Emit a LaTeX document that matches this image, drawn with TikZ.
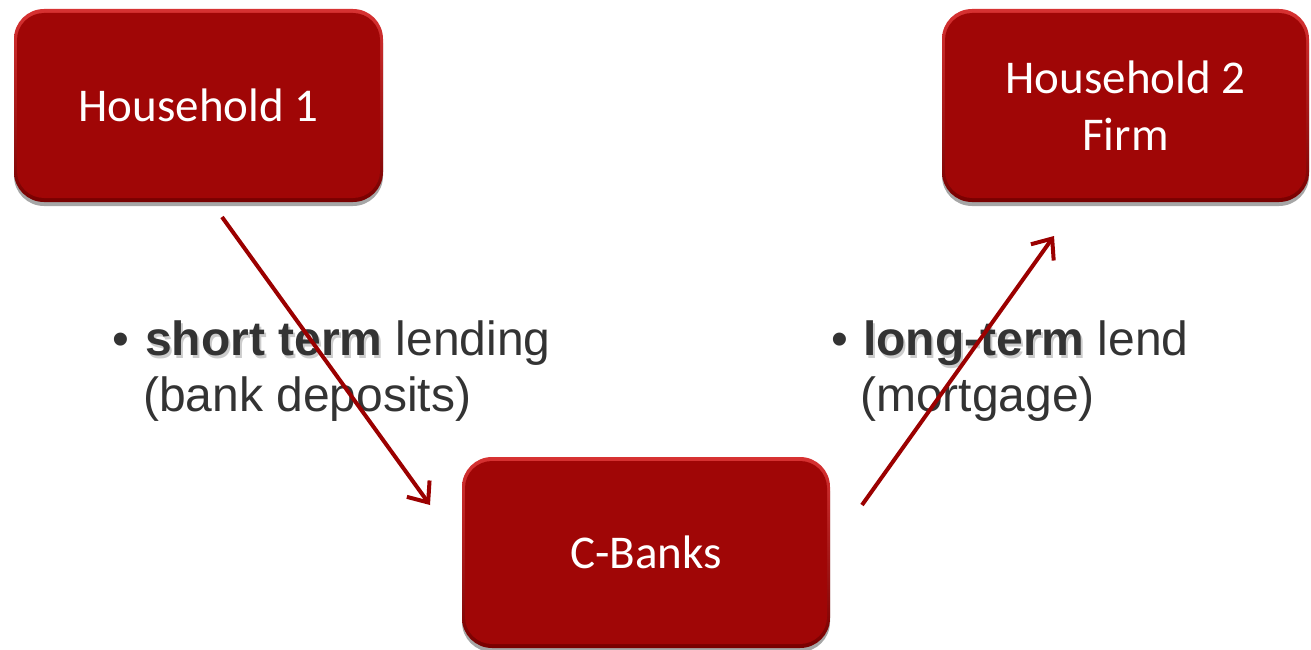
\documentclass[tikz,border=0pt]{standalone}
\usepackage{fontspec}
\setmainfont{Liberation Sans}
\newfontfamily\boxfont{Carlito}
\usetikzlibrary{arrows.meta,shadows}
\definecolor{boxred}{RGB}{160,6,6}
\definecolor{boxtop}{RGB}{215,50,50}
\definecolor{boxbot}{RGB}{120,0,0}
\definecolor{arrowred}{RGB}{155,0,0}
\definecolor{txt}{RGB}{51,51,51}
\newcommand{\shadowbold}[1]{\textbf{\makebox[0pt][l]{\hspace{2pt}\raisebox{-3pt}{\color{black!20}#1}}#1}}
\tikzset{
  redbox/.style={rounded corners=30pt, minimum width=369pt, minimum height=193pt,
    inner sep=0pt, top color=boxtop, bottom color=boxbot,
    drop shadow={shadow xshift=0pt, shadow yshift=-4pt, opacity=0.35, fill=black},
    path picture={\fill[boxred, rounded corners=27pt]
      ([shift={(3pt,-4pt)}]path picture bounding box.north west) rectangle
      ([shift={(-3pt,4pt)}]path picture bounding box.south east);},
    text=white, font=\boxfont\fontsize{47pt}{57pt}\selectfont, align=center},
  flow/.style={draw=arrowred, line width=4pt, -{Straight Barb[length=17pt,width=28pt,line width=4pt]}},
  label/.style={text=txt, font=\fontsize{48pt}{56pt}\selectfont, inner sep=0pt, anchor=base west}
}
\begin{document}
\begin{tikzpicture}[x=1pt,y=-1pt]
\useasboundingbox (0,0) rectangle (1311,650);
\node[redbox] (h1) at (198.5,105.5) {Household 1};
\node[redbox, minimum width=367pt] (h2) at (1125.5,105.5) {Household 2\\Firm};
\node[redbox, minimum width=368pt, minimum height=191pt] (cb) at (646,552.5) {C-Banks};
% labels
\node[label] (lb) at (112,355) {\textbullet};
\node[label] (lt1) at (145,355) {\shadowbold{short term} lending};
\node[label] (lt2) at (143,411) {(bank deposits)};
\node[label] (rb) at (831,355) {\textbullet};
\node[label] (rt1) at (863,355) {\shadowbold{long-term} lend};
\node[label] (rt2) at (860,411) {(mortgage)};
% connectors
\coordinate (a1s) at (222,217);
\coordinate (a1e) at (430,505);
\coordinate (a2s) at (862,505);
\coordinate (a2e) at (1054,236);
\draw[flow] (a1s) -- (a1e);
\draw[flow] (a2s) -- (a2e);
\end{tikzpicture}
\end{document}
